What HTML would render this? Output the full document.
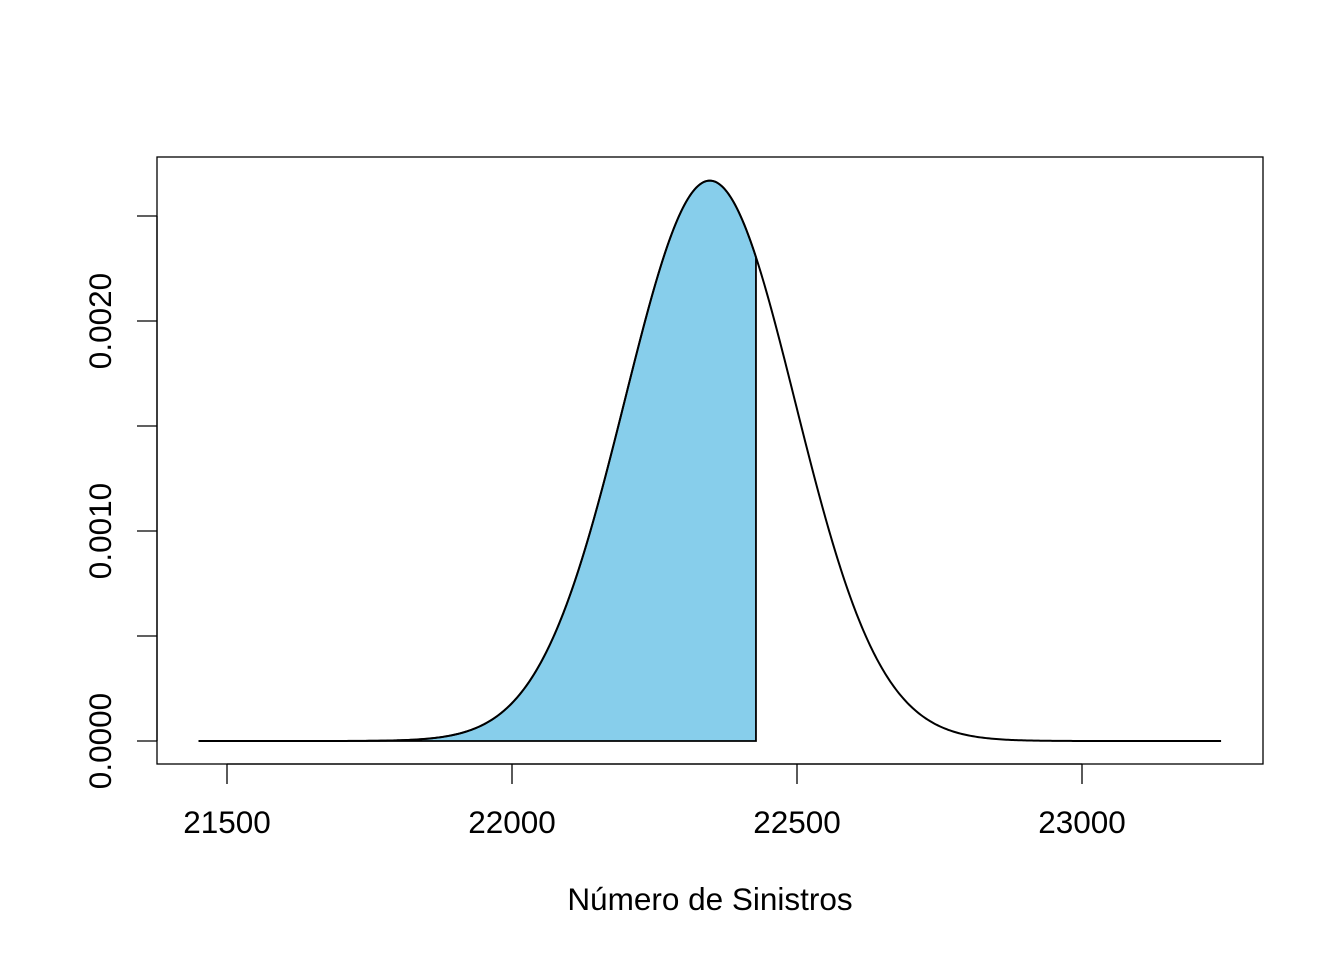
<!DOCTYPE html>
<html><head><meta charset="utf-8"><style>
body{margin:0;background:#fff}
svg{display:block;font-family:"Liberation Sans",Arial,sans-serif}
</style></head><body>
<svg id="chart" width="1344" height="960">
<rect x="157" y="157" width="1106" height="607" fill="none" stroke="#000" stroke-width="1.3"/>
<g id="shade"></g>
<g id="curve"></g>
<g id="xaxis"></g>
<g id="yaxis"></g>
<text x="710" y="910" text-anchor="middle" font-size="31.5">Número de Sinistros</text>
</svg>
<script>
const meanValue = [22347];
const sdValue = [149.5];
const rangeLimits = [21450, 23244];
const shadeUpper = [22428];
const xTicks = [21500, 22000, 22500, 23000];
const yTicks = [0, 0.0005, 0.001, 0.0015, 0.002, 0.0025];
const yTickLabels = ["0.0000", "", "0.0010", "", "0.0020", ""];

const NS = "http://www.w3.org/2000/svg";
function sx(v){ return 227 + (v - 21500) * 0.57; }
function sy(v){ return 741 - v * 210000; }
function dens(x){ const z=(x-meanValue[0])/sdValue[0]; return Math.exp(-z*z/2)/(sdValue[0]*Math.sqrt(2*Math.PI)); }
function mk(tag, attrs, parent){ const e=document.createElementNS(NS,tag); for(const k in attrs) e.setAttribute(k,attrs[k]); parent.appendChild(e); return e; }

const N = 600;
let pts = [];
for(let i=0;i<=N;i++){ const x=rangeLimits[0]+(rangeLimits[1]-rangeLimits[0])*i/N; pts.push(sx(x).toFixed(2)+","+sy(dens(x)).toFixed(2)); }

let sp = [sx(rangeLimits[0]).toFixed(2)+","+sy(0)];
for(let i=0;i<=N;i++){ const x=rangeLimits[0]+(shadeUpper[0]-rangeLimits[0])*i/N; sp.push(sx(x).toFixed(2)+","+sy(dens(x)).toFixed(2)); }
sp.push(sx(shadeUpper[0]).toFixed(2)+","+sy(0));
const shade = mk("polygon",{points:sp.join(" "),fill:"#87CEEB",stroke:"#000","stroke-width":"1.8"},document.getElementById("shade"));



const line = mk("polyline",{points:pts.join(" "),fill:"none",stroke:"#000","stroke-width":"2"},document.getElementById("curve"));



const xa = document.getElementById("xaxis");
const xl = mk("line",{x1:sx(xTicks[0]),x2:sx(xTicks[xTicks.length-1]),y1:764,y2:764,stroke:"#000","stroke-width":"1.3"},xa);


xTicks.forEach(t=>{
  const tk = mk("line",{x1:sx(t),x2:sx(t),y1:764,y2:784,stroke:"#000","stroke-width":"1.3"},xa);
  
  
  const lb = mk("text",{x:sx(t),y:833,"text-anchor":"middle","font-size":"31.5"},xa);
  lb.textContent = t;
  
  
});

const ya = document.getElementById("yaxis");
const yl = mk("line",{x1:157,x2:157,y1:sy(yTicks[0]),y2:sy(yTicks[yTicks.length-1]),stroke:"#000","stroke-width":"1.3"},ya);


yTicks.forEach((t,i)=>{
  const tk = mk("line",{x1:137,x2:157,y1:sy(t),y2:sy(t),stroke:"#000","stroke-width":"1.3"},ya);
  
  
  if(yTickLabels[i]){
    const lb = mk("text",{x:111,y:sy(t),"text-anchor":"middle","font-size":"31.5",transform:"rotate(-90 111 "+sy(t)+")"},ya);
    lb.textContent = yTickLabels[i];
    
    
  }
});
</script>
</body></html>
